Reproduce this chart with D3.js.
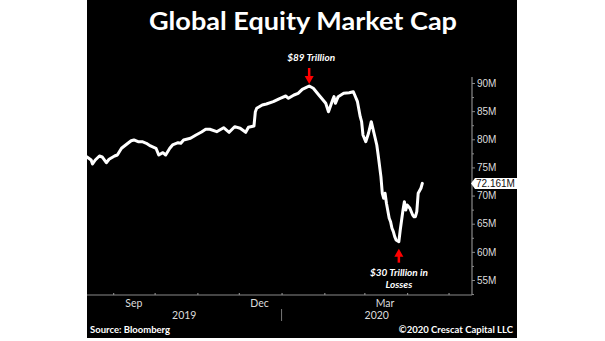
<!DOCTYPE html>
<html>
<head>
<meta charset="utf-8">
<script src="https://cdn.jsdelivr.net/npm/d3@7"></script>
<style>
  html, body { margin: 0; padding: 0; background: #ffffff; }
  svg { display: block; }
</style>
</head>
<body>
<svg id="chart" width="605" height="341"></svg>
<script>
// ---- data ----
const dates = [
  "2019-08-13","2019-08-16","2019-08-17","2019-08-19","2019-08-22","2019-08-24","2019-08-27","2019-08-29",
  "2019-09-02","2019-09-04","2019-09-07","2019-09-10","2019-09-14","2019-09-16","2019-09-19","2019-09-22",
  "2019-09-25","2019-09-28","2019-10-02","2019-10-04","2019-10-07","2019-10-09","2019-10-12","2019-10-14",
  "2019-10-18","2019-10-20","2019-10-22","2019-10-27","2019-10-31","2019-11-04","2019-11-07","2019-11-10",
  "2019-11-15","2019-11-20","2019-11-24","2019-11-28","2019-12-02","2019-12-06","2019-12-08","2019-12-12",
  "2019-12-13","2019-12-14","2019-12-18","2019-12-21","2019-12-26","2019-12-31","2020-01-04","2020-01-06",
  "2020-01-10","2020-01-13","2020-01-16","2020-01-19","2020-01-21","2020-01-24","2020-01-28","2020-01-30",
  "2020-02-02","2020-02-04","2020-02-07","2020-02-08","2020-02-09","2020-02-11","2020-02-15","2020-02-19",
  "2020-02-22","2020-02-23","2020-02-25","2020-02-27","2020-02-28","2020-02-29","2020-03-02","2020-03-04",
  "2020-03-06","2020-03-08","2020-03-10","2020-03-11","2020-03-13","2020-03-14","2020-03-15","2020-03-16",
  "2020-03-17","2020-03-19","2020-03-20","2020-03-21","2020-03-22","2020-03-23","2020-03-24","2020-03-26",
  "2020-03-27","2020-03-28","2020-03-29","2020-03-30","2020-03-31","2020-04-01","2020-04-03","2020-04-05",
  "2020-04-06","2020-04-07","2020-04-08","2020-04-09","2020-04-11","2020-04-12"
];
const values = [
  76.86,76.32,75.61,76.32,77.03,76.86,75.84,76.45,
  77.03,77.21,78.40,78.99,79.75,79.88,79.57,79.57,
  79.29,78.81,78.40,77.21,77.62,77.21,78.40,78.99,
  79.40,79.29,79.88,80.18,80.76,81.30,81.78,81.78,
  81.35,82.06,81.24,82.24,81.95,81.24,82.13,82.36,
  84.90,85.51,86.09,86.27,86.68,87.28,87.69,87.28,
  87.87,88.17,88.88,89.24,89.47,89.06,87.87,87.28,
  86.39,84.90,86.98,87.57,86.39,87.57,88.17,88.28,
  88.45,87.87,86.68,84.01,83.13,80.76,79.57,81.07,
  83.13,81.07,78.99,77.21,73.36,70.41,69.52,70.41,
  68.63,65.97,65.36,64.19,63.59,62.70,62.11,61.81,
  63.89,65.67,67.44,68.92,67.44,68.33,67.74,66.55,
  66.25,66.25,67.14,70.41,71.30,72.161
];
const yTicks = [55, 60, 65, 70, 75, 80, 85, 90];
const yMinorTicks = [52.5, 57.5, 62.5, 67.5, 72.5, 77.5, 82.5, 87.5];
const monthLabels = [
  { label: "Sep", date: "2019-09-16" },
  { label: "Dec", date: "2019-12-16" },
  { label: "Mar", date: "2020-03-16" }
];
const yearLabels = [
  { label: "2019", from: "2019-08-13", to: "2020-01-01" },
  { label: "2020", from: "2020-01-01", to: "2020-05-18" }
];
const titleText = "Global Equity Market Cap";
const peakLabel = "$89 Trillion";
const troughLabel = ["$30 Trillion in", "Losses"];
const sourceText = "Source: Bloomberg";
const copyrightText = "\u00A92020 Crescat Capital LLC";

// ---- setup ----
const parse = d3.timeParse("%Y-%m-%d");
const data = dates.map((d, i) => ({ date: parse(d), value: values[i] }));

const svg = d3.select("#chart");
const W = 605, H = 341;
const bgLeft = 87, bgRight = 517, bgBottom = 338;
const plotLeft = 87, plotRight = 472, plotTop = 77, plotBottom = 295;

svg.append("rect").attr("x", 0).attr("y", 0).attr("width", W).attr("height", H).attr("fill", "#ffffff");
svg.append("rect").attr("x", bgLeft).attr("y", 0).attr("width", bgRight - bgLeft).attr("height", bgBottom).attr("fill", "#000000");

const x = d3.scaleTime()
  .domain([parse("2019-08-13"), parse("2020-05-18")])
  .range([plotLeft, plotRight]);
const y = d3.scaleLinear()
  .domain([90 - (plotBottom - 83) / (197 / 35), 90 + (83 - plotTop) / (197 / 35)])
  .range([plotBottom, plotTop]);

// ---- title ----
svg.append("text")
  .attr("x", 303).attr("y", 30)
  .attr("text-anchor", "middle")
  .attr("font-family", "Lato, 'Open Sans', sans-serif")
  .attr("font-weight", 700)
  .attr("font-size", 25)
  .attr("textLength", 308)
  .attr("lengthAdjust", "spacingAndGlyphs")
  .attr("fill", "#ffffff")
  .text(titleText);

// ---- axes ----
const axisColor = "#8a8a8a";
const labelColor = "#dcdcdc";

// y axis
const yAxisG = svg.append("g").attr("transform", `translate(${plotRight},0)`);
yAxisG.call(d3.axisRight(y).tickValues(yTicks).tickSize(3).tickPadding(2).tickFormat(d => d + "M"));
yAxisG.select(".domain").remove();
yAxisG.selectAll(".tick line").attr("stroke", axisColor);
yAxisG.selectAll(".tick text")
  .attr("fill", labelColor)
  .attr("font-family", "'Liberation Sans', Arial, sans-serif")
  .attr("font-size", 10);

const yMinorG = svg.append("g").attr("transform", `translate(${plotRight},0)`);
yMinorG.call(d3.axisRight(y).tickValues(yMinorTicks).tickSize(2).tickFormat(""));
yMinorG.select(".domain").remove();
yMinorG.selectAll(".tick line").attr("stroke", axisColor);

// x axis
const xAxisG = svg.append("g").attr("transform", `translate(0,${plotBottom})`);
xAxisG.call(d3.axisBottom(x).ticks(d3.timeMonth.every(1)).tickSizeInner(-2).tickSizeOuter(0).tickFormat(""));
xAxisG.select(".domain").remove();
xAxisG.selectAll(".tick line").attr("stroke", "#a0a0a0");

// axis frame lines
svg.append("line")
  .attr("x1", plotLeft).attr("x2", plotRight)
  .attr("y1", plotBottom).attr("y2", plotBottom)
  .attr("stroke", axisColor).attr("stroke-width", 1.2);
svg.append("line")
  .attr("x1", plotRight).attr("x2", plotRight)
  .attr("y1", plotTop).attr("y2", plotBottom)
  .attr("stroke", axisColor).attr("stroke-width", 1.2);

// month labels
svg.append("g").selectAll("text").data(monthLabels).join("text")
  .attr("x", d => x(parse(d.date)))
  .attr("y", 307)
  .attr("text-anchor", "middle")
  .attr("font-family", "Lato, sans-serif")
  .attr("font-size", 10.5)
  .attr("fill", labelColor)
  .text(d => d.label);

// year labels
svg.append("g").selectAll("text").data(yearLabels).join("text")
  .attr("x", d => (x(parse(d.from)) + x(parse(d.to))) / 2)
  .attr("y", 319)
  .attr("text-anchor", "middle")
  .attr("font-family", "Lato, sans-serif")
  .attr("font-size", 10.5)
  .attr("fill", labelColor)
  .text(d => d.label);

// year separator
svg.append("line")
  .attr("x1", x(parse("2020-01-01"))).attr("x2", x(parse("2020-01-01")))
  .attr("y1", 309).attr("y2", 321)
  .attr("stroke", "#777777").attr("stroke-width", 1);

// ---- line ----
const line = d3.line().x(d => x(d.date)).y(d => y(d.value));
svg.append("path")
  .datum(data)
  .attr("d", line)
  .attr("fill", "none")
  .attr("stroke", "#ffffff")
  .attr("stroke-width", 3)
  .attr("stroke-linejoin", "round")
  .attr("stroke-linecap", "round");

// ---- last value tag ----
const last = data[data.length - 1];
const ly = y(last.value);
const tagLeft = plotRight - 1, tagRight = bgRight;
svg.append("path")
  .attr("d", `M${tagLeft},${ly} L${tagLeft + 4},${ly - 5.5} L${tagRight},${ly - 5.5} L${tagRight},${ly + 5.5} L${tagLeft + 4},${ly + 5.5} Z`)
  .attr("fill", "#ffffff");
svg.append("text")
  .attr("x", tagLeft + 5).attr("y", ly + 4)
  .attr("font-family", "'Liberation Sans', Arial, sans-serif")
  .attr("font-size", 10)
  .attr("fill", "#111111")
  .text(d3.format(".3f")(last.value) + "M");

// ---- annotations ----
const peak = data.reduce((a, b) => (b.value > a.value ? b : a));
const trough = data.reduce((a, b) => (b.value < a.value ? b : a));
const red = "#ff0000";

const px = x(peak.date), py = y(peak.value);
svg.append("text")
  .attr("x", px + 2).attr("y", py - 25)
  .attr("text-anchor", "middle")
  .attr("font-family", "Lato, sans-serif")
  .attr("font-weight", 700).attr("font-style", "italic")
  .attr("font-size", 10)
  .attr("fill", "#ffffff")
  .text(peakLabel);
svg.append("line")
  .attr("x1", px).attr("x2", px).attr("y1", py - 18).attr("y2", py - 8)
  .attr("stroke", red).attr("stroke-width", 2.5);
svg.append("path")
  .attr("d", `M${px - 4.5},${py - 10} L${px + 4.5},${py - 10} L${px},${py - 2} Z`)
  .attr("fill", red);

const tx = x(trough.date), ty = y(trough.value);
svg.append("path")
  .attr("d", `M${tx - 4.5},${ty + 15} L${tx + 4.5},${ty + 15} L${tx},${ty + 7} Z`)
  .attr("fill", red);
svg.append("line")
  .attr("x1", tx).attr("x2", tx).attr("y1", ty + 13).attr("y2", ty + 21)
  .attr("stroke", red).attr("stroke-width", 2.5);
svg.append("g").selectAll("text").data(troughLabel).join("text")
  .attr("x", tx).attr("y", (d, i) => ty + 34 + i * 12)
  .attr("text-anchor", "middle")
  .attr("font-family", "Lato, sans-serif")
  .attr("font-weight", 700).attr("font-style", "italic")
  .attr("font-size", 10)
  .attr("fill", "#ffffff")
  .text(d => d);

// ---- footer ----
svg.append("text")
  .attr("x", 90).attr("y", 333)
  .attr("font-family", "Lato, sans-serif")
  .attr("font-weight", 700)
  .attr("font-size", 9.5)
  .attr("fill", "#ffffff")
  .text(sourceText);
svg.append("text")
  .attr("x", 513).attr("y", 333)
  .attr("text-anchor", "end")
  .attr("font-family", "Lato, sans-serif")
  .attr("font-weight", 700)
  .attr("font-size", 9.5)
  .attr("fill", "#ffffff")
  .text(copyrightText);
</script>
</body>
</html>
